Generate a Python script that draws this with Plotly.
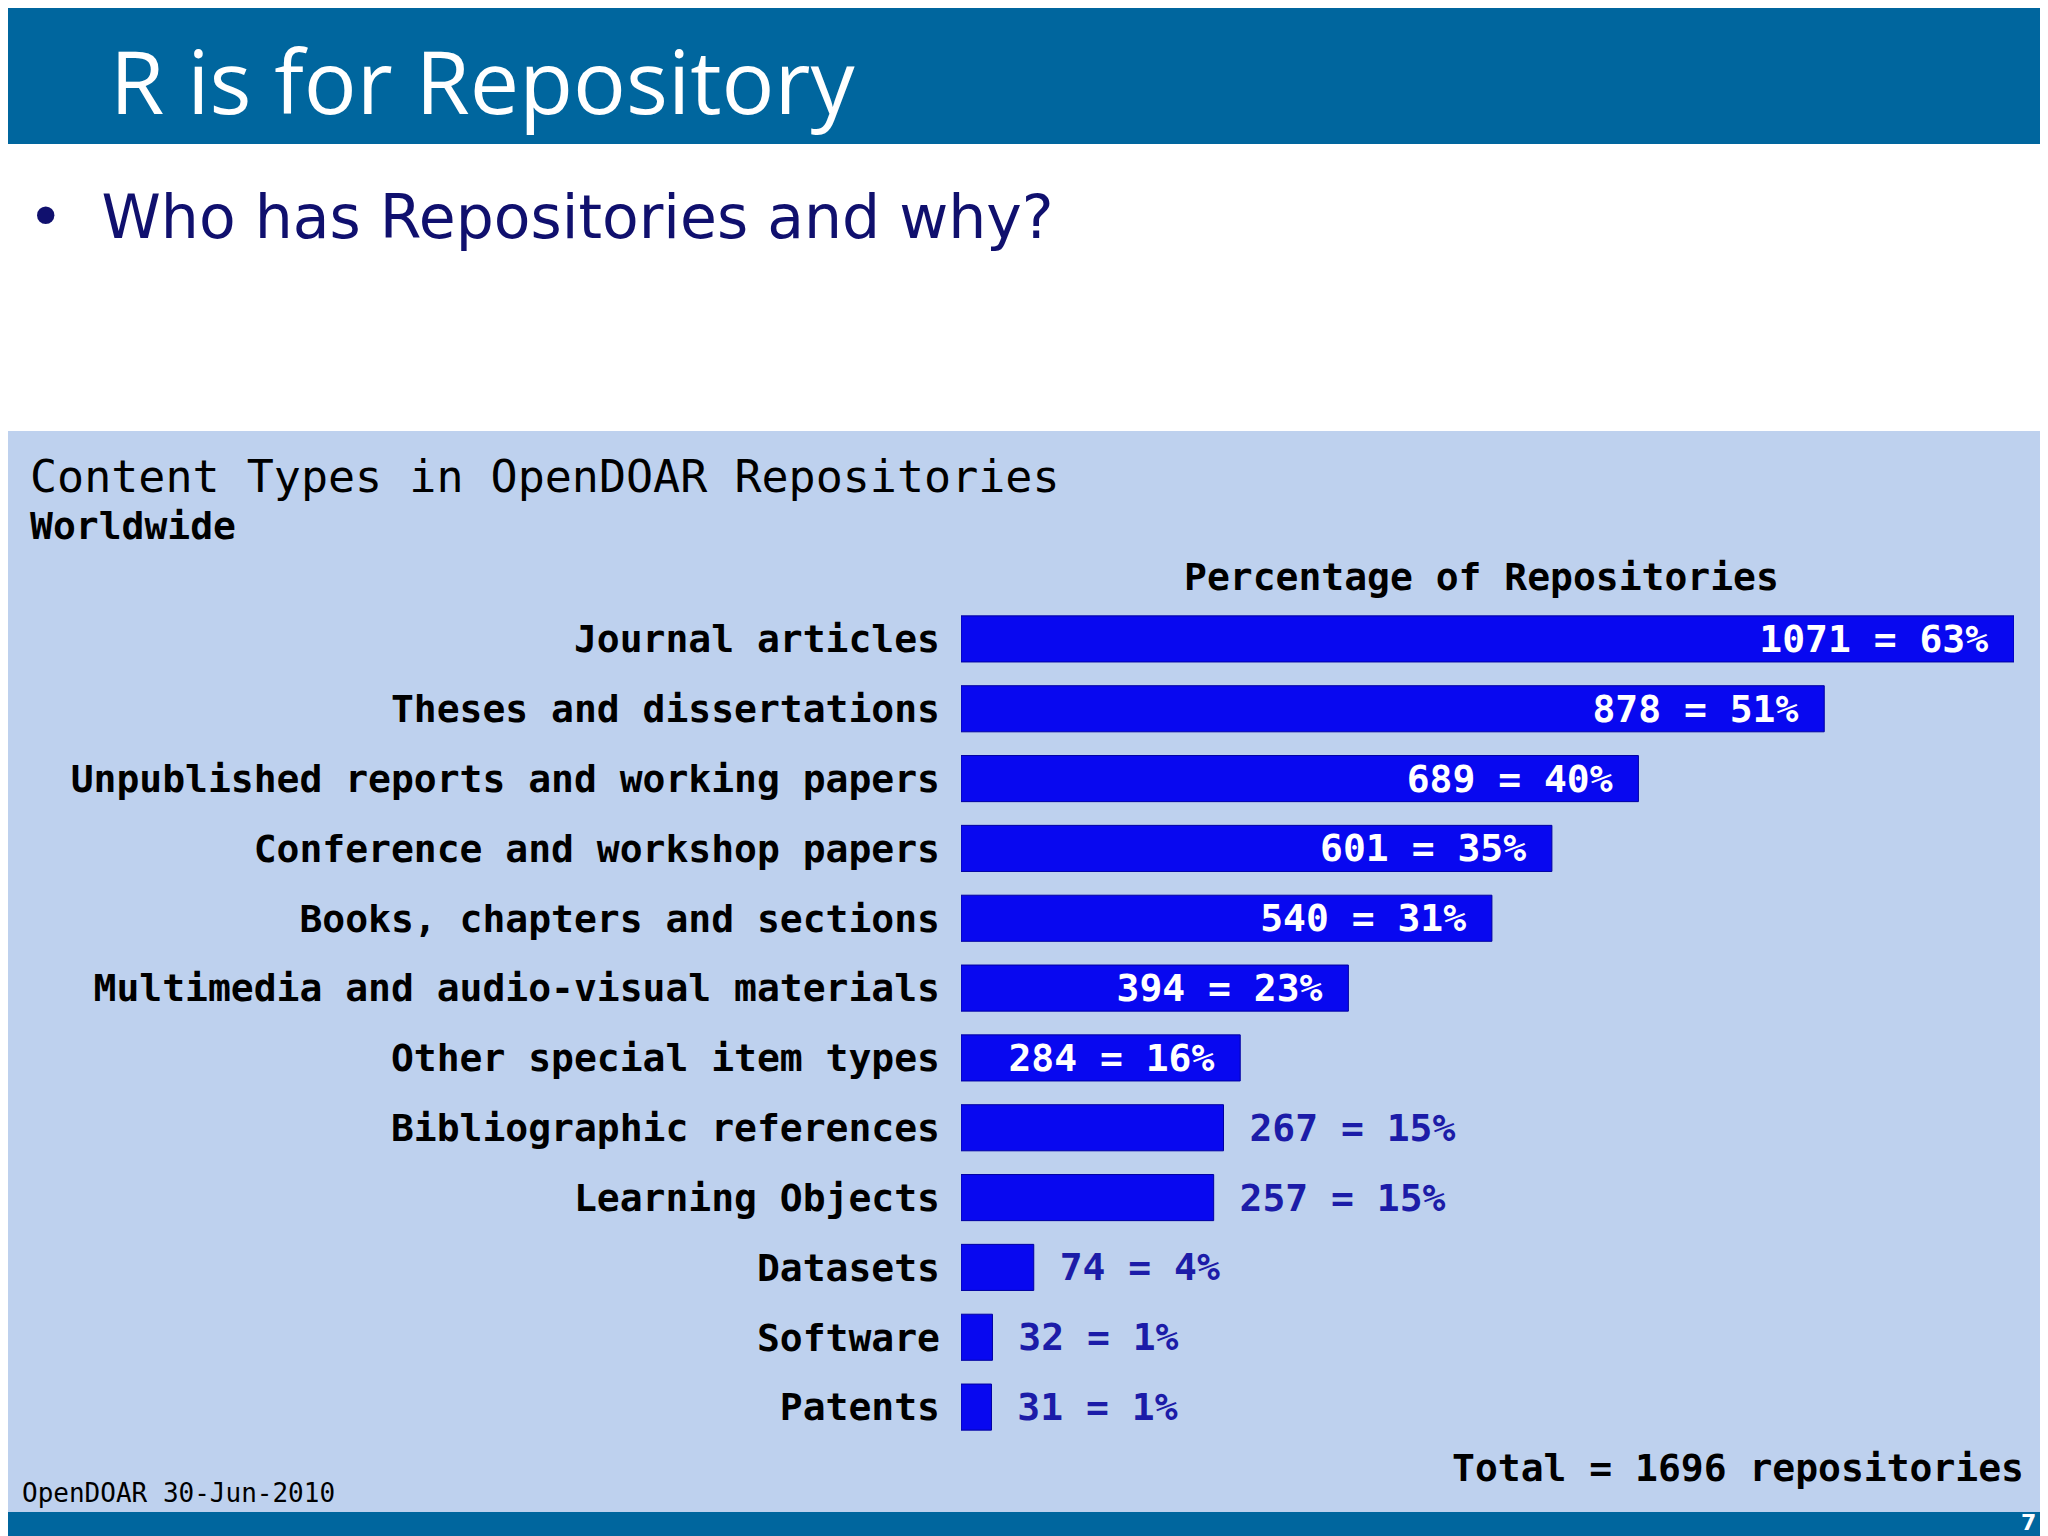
import plotly.graph_objects as go

categories = ["Journal articles", "Theses and dissertations",
              "Unpublished reports and working papers", "Conference and workshop papers",
              "Books, chapters and sections", "Multimedia and audio-visual materials",
              "Other special item types", "Bibliographic references", "Learning Objects",
              "Datasets", "Software", "Patents"]
counts = [1071, 878, 689, 601, 540, 394, 284, 267, 257, 74, 32, 31]
percents = [63, 51, 40, 35, 31, 23, 16, 15, 15, 4, 1, 1]
total = 1696

W, H = 2048, 1536
mono = "DejaVu Sans Mono"
positions = ["inside" if c > 280 else "outside" for c in counts]
labels = [f"{c} = {p}% " if pos == "inside" else f" {c} = {p}%"
          for c, p, pos in zip(counts, percents, positions)]

fig = go.Figure(go.Bar(
    x=counts, y=categories, orientation="h",
    marker=dict(color="#0808f0", line=dict(color="#0000a0", width=1)),
    text=labels, textposition=positions, insidetextanchor="end",
    constraintext="none", cliponaxis=False,
    insidetextfont=dict(family=mono, size=38, color="white", weight="bold"),
    outsidetextfont=dict(family=mono, size=38, color="#1c1ca8", weight="bold"),
))

fig.update_layout(
    width=W, height=H, margin=dict(l=0, r=0, t=0, b=0),
    paper_bgcolor="white", plot_bgcolor="rgba(0,0,0,0)",
    showlegend=False, bargap=0.34,
    xaxis=dict(domain=[953 / W, 2006 / W], range=[0, 1071], visible=False),
    yaxis=dict(domain=[1 - 1434 / H, 1 - 596 / H], autorange="reversed",
               showgrid=False, zeroline=False, ticks="", ticklabelstandoff=20,
               tickfont=dict(family=mono, size=38, color="black", weight="bold")),
    shapes=[
        dict(type="rect", xref="paper", yref="paper", x0=0, x1=1, y0=1 - 136 / H, y1=1,
             fillcolor="#00669e", line=dict(width=0), layer="below"),
        dict(type="rect", xref="paper", yref="paper", x0=0, x1=2037 / W,
             y0=1 - 1504 / H, y1=1 - 423 / H,
             fillcolor="#bed1ee", line=dict(width=0), layer="below"),
        dict(type="rect", xref="paper", yref="paper", x0=0, x1=1, y0=0, y1=32 / H,
             fillcolor="#00669e", line=dict(width=0), layer="below"),
    ],
)

def note(text, x, y, size, color="black", family=mono, xanchor="left", weight="normal"):
    fig.add_annotation(text=text, xref="paper", yref="paper", x=x / W, y=1 - y / H,
                       xanchor=xanchor, yanchor="middle", showarrow=False,
                       font=dict(family=family, size=size, color=color, weight=weight))

note("R is for Repository", 100, 72, 88, "white", "Open Sans")
note("•  Who has Repositories and why?", 18, 209, 60, "#10106e", "DejaVu Sans")
note("Content Types in OpenDOAR Repositories", 20, 468, 45)
note("Worldwide", 20, 518, 38, weight="bold")
note("Percentage of Repositories", 1473, 569, 38, xanchor="center", weight="bold")
note(f"Total = {total} repositories", 2018, 1460, 38, xanchor="right", weight="bold")
note("OpenDOAR 30-Jun-2010", 12, 1485, 26)
note("7", 2030, 1514, 22, "white", "DejaVu Sans", xanchor="right", weight="bold")

fig.write_html("out.html")
